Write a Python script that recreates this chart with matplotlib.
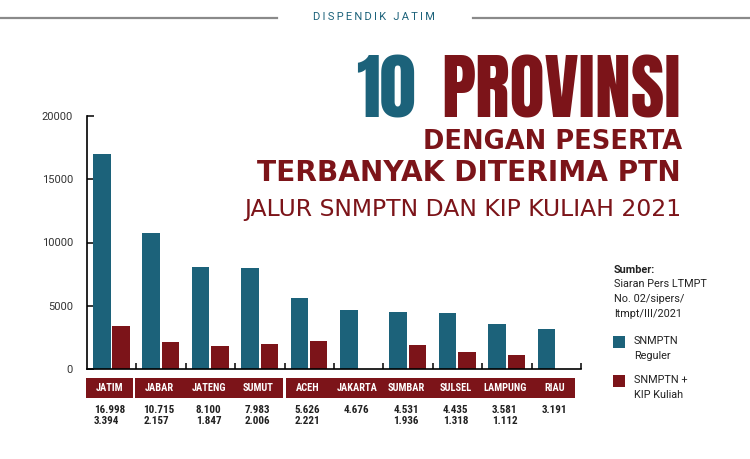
import matplotlib
matplotlib.use("Agg")
import matplotlib.pyplot as plt
import matplotlib.transforms as mtransforms
from matplotlib.path import Path
from matplotlib.patches import Rectangle
import numpy as np

# data
provinces = ["JATIM", "JABAR", "JATENG", "SUMUT", "ACEH",
             "JAKARTA", "SUMBAR", "SULSEL", "LAMPUNG", "RIAU"]
snmptn_reguler = [16998, 10715, 8100, 7983, 5626, 4676, 4531, 4435, 3581, 3191]
snmptn_kip = [3394, 2157, 1847, 2006, 2221, None, 1936, 1318, 1112, None]
reguler_labels = ["16.998", "10.715", "8.100", "7.983", "5.626",
                  "4.676", "4.531", "4.435", "3.581", "3.191"]
kip_labels = ["3.394", "2.157", "1.847", "2.006", "2.221",
              "", "1.936", "1.318", "1.112", ""]
y_ticks = [0, 5000, 10000, 15000, 20000]

TEAL = "#1c627a"
RED = "#7c1419"
COND = ["Roboto Condensed", "DejaVu Sans"]
ROBOTO = ["Roboto", "DejaVu Sans"]
HEAVY = ["Anton", "DejaVu Sans"]
WIDE = ["DejaVu Sans"]

W, H = 750, 459


def px(x, y):
    # pixel position (from top-left) -> figure fraction
    return x / W, 1 - y / H


def label_box(x0, y0, width, height, mutation_size):
    # flat box: wide side padding, fixed height
    cx, cy = x0 + width / 2, y0 + height / 2
    w, h = width + 20, 20
    verts = [(cx - w / 2, cy - h / 2), (cx + w / 2, cy - h / 2),
             (cx + w / 2, cy + h / 2), (cx - w / 2, cy + h / 2),
             (cx - w / 2, cy - h / 2)]
    return Path(verts, closed=True)


def main():
    fig = plt.figure(figsize=(W / 100, H / 100), dpi=100)
    fig.patch.set_facecolor("white")

    # header
    fig.add_artist(plt.Line2D([0, 277 / W], [1 - 18 / H] * 2, color="#8a8a8a", lw=1.6))
    fig.add_artist(plt.Line2D([473 / W, 1], [1 - 18 / H] * 2, color="#8a8a8a", lw=1.6))
    fig.text(*px(374, 17), "\u2009".join("DISPENDIK JATIM"), color=TEAL,
             family=ROBOTO, fontsize=8, ha="center", va="center")

    # titles
    fig.text(*px(356, 117), "10", color=TEAL, family=HEAVY,
             fontsize=52, ha="left", va="baseline")
    fig.text(*px(681, 117), "PROVINSI", color=RED, family=HEAVY,
             fontsize=52, ha="right", va="baseline")
    fig.text(*px(682, 149), "DENGAN PESERTA", color=RED, family=WIDE,
             fontweight="bold", fontsize=18.5, ha="right", va="baseline")
    fig.text(*px(681, 181), "TERBANYAK DITERIMA PTN", color=RED, family=WIDE,
             fontweight="bold", fontsize=20.2, ha="right", va="baseline")
    fig.text(*px(681, 216), "JALUR SNMPTN DAN KIP KULIAH 2021", color=RED,
             family=WIDE, fontsize=16.9, ha="right", va="baseline")

    # bar chart
    ax = fig.add_axes([87 / W, 90 / H, (581 - 87) / W, 253 / H])
    x = np.arange(len(provinces))
    kip_vals = [v if v is not None else 0 for v in snmptn_kip]
    ax.bar(x - 0.2, snmptn_reguler, width=0.355, color=TEAL, zorder=2)
    ax.bar(x + 0.19, kip_vals, width=0.355, color=RED, zorder=2)

    ax.set_xlim(-0.5, len(provinces) - 0.5)
    ax.set_ylim(0, 20000)
    ax.set_yticks(y_ticks)
    ax.set_yticklabels([str(t) for t in y_ticks], family=ROBOTO, fontsize=8, color="#333333")
    ax.set_xticks(x + 0.5)
    ax.set_xticklabels([])
    ax.tick_params(axis="y", direction="in", length=5, width=1.1, pad=10)
    ax.tick_params(axis="x", direction="in", length=4, width=1.1)
    for side in ["top", "right"]:
        ax.spines[side].set_visible(False)
    for side in ["left", "bottom"]:
        ax.spines[side].set_linewidth(1.2)

    # province label boxes and values under the axis
    trans = mtransforms.blended_transform_factory(ax.transData, fig.transFigure)
    for i, name in enumerate(provinces):
        ax.text(i - 0.04, 1 - 388 / H, name, transform=trans, color="white",
                family=COND, fontweight="bold", fontsize=7.5, ha="center", va="center",
                bbox=dict(boxstyle=label_box, facecolor=RED, edgecolor="none"),
                clip_on=False)
        vals = reguler_labels[i] + ("\n" + kip_labels[i] if kip_labels[i] else "")
        ax.text(i - 0.04, 1 - 405 / H, vals, transform=trans, color="#222222",
                family=COND, fontweight="bold", fontsize=8, ha="center", va="top",
                multialignment="left", linespacing=1.1, clip_on=False)

    # source + legend
    fig.text(*px(614, 270), "Sumber:", family=ROBOTO, fontweight="bold",
             fontsize=7.8, color="#222222", va="center")
    for k, line in enumerate(["Siaran Pers LTMPT", "No. 02/sipers/", "ltmpt/III/2021"]):
        fig.text(*px(614, 284 + 14.8 * k), line, family=ROBOTO,
                 fontsize=7.8, color="#222222", va="center")

    fig.add_artist(Rectangle(px(613, 348), 12 / W, 12 / H, transform=fig.transFigure,
                             facecolor=TEAL, edgecolor="none"))
    fig.add_artist(Rectangle(px(613, 387), 12 / W, 12 / H, transform=fig.transFigure,
                             facecolor=RED, edgecolor="none"))
    fig.text(*px(634, 341), "SNMPTN", family=ROBOTO, fontsize=7.8, color="#222222", va="center")
    fig.text(*px(634, 356), "Reguler", family=ROBOTO, fontsize=7.8, color="#222222", va="center")
    fig.text(*px(634, 380), "SNMPTN +", family=ROBOTO, fontsize=7.8, color="#222222", va="center")
    fig.text(*px(634, 395), "KIP Kuliah", family=ROBOTO, fontsize=7.8, color="#222222", va="center")

    fig.savefig("out.png", dpi=100)


if "__main__" == __name__:
    main()
